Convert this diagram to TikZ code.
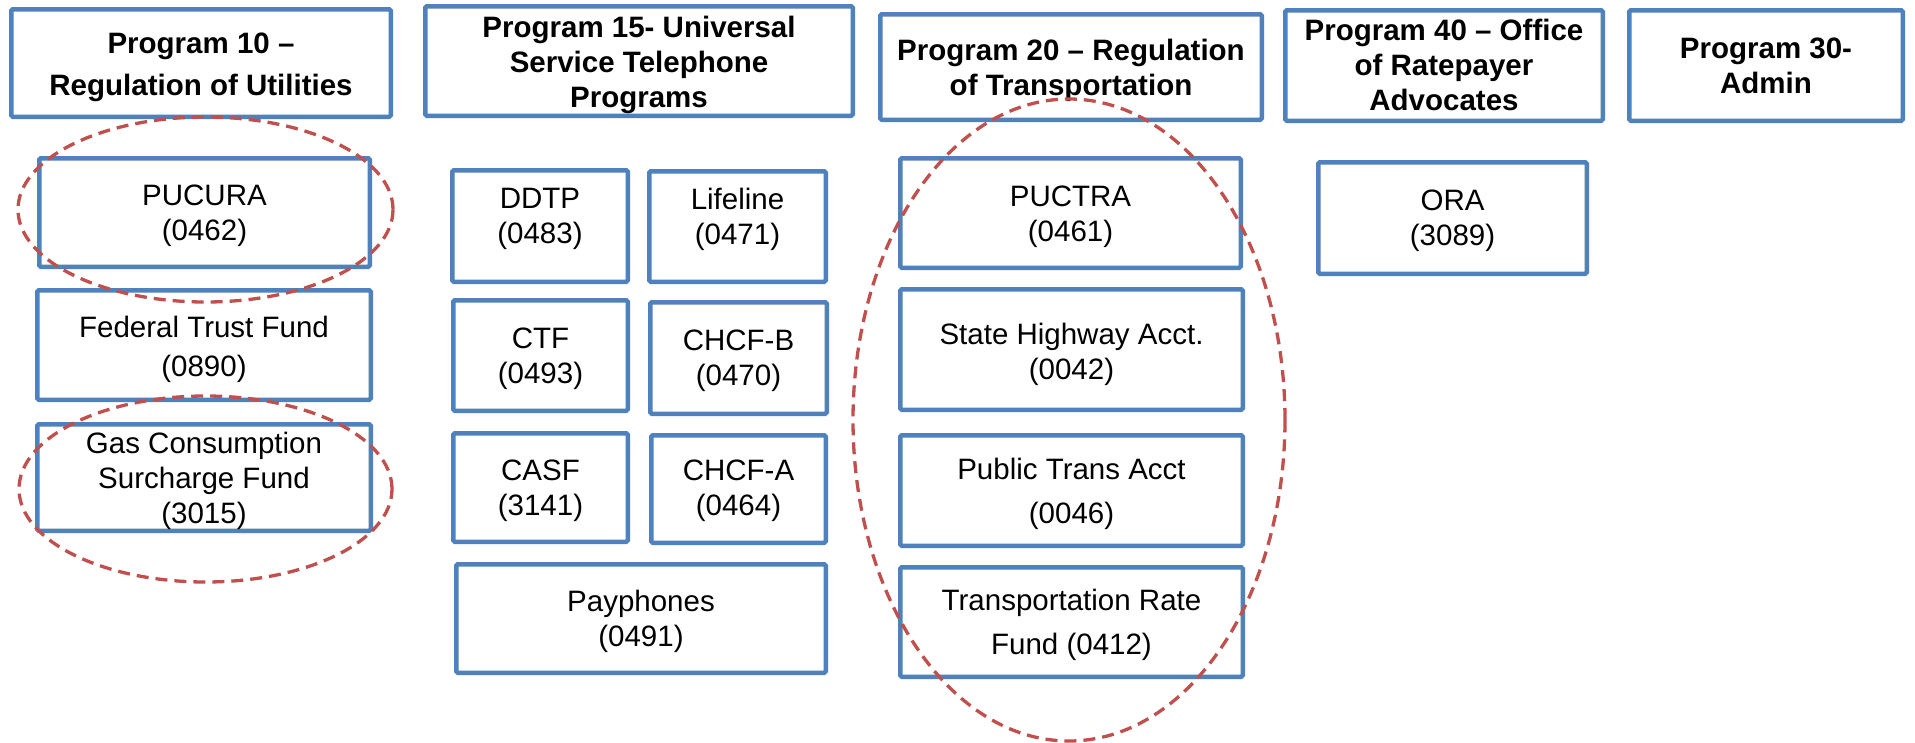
\documentclass[tikz,border=0pt]{standalone}
\usepackage{fontspec}
\setmainfont{Liberation Sans}
\definecolor{boxblue}{RGB}{79,129,189}
\definecolor{ellred}{RGB}{192,80,77}
\begin{document}
\begin{tikzpicture}[x=1pt,y=-1pt,
  box/.style={draw=boxblue, line width=4.5pt, rounded corners=1.5pt, fill=white, inner sep=0pt},
  txt/.style={align=center, inner sep=0pt, font=\fontsize{29.5}{35}\selectfont},
  hdr/.style={txt, font=\fontsize{29.5}{35}\selectfont\bfseries},
  ell/.style={draw=ellred, line width=3.3pt, dash pattern=on 12pt off 7pt}]
\useasboundingbox (0,0) rectangle (1915,742);
\fill[white] (0,0) rectangle (1915,742);
% headers
\node[box, minimum width=379.5pt, minimum height=107.5pt] (h1) at (201,63) {};
\node[box, minimum width=427.5pt, minimum height=109.5pt] (h15) at (639,61) {};
\node[box, minimum width=381.5pt, minimum height=105.5pt] (h20) at (1071,67) {};
\node[box, minimum width=317.5pt, minimum height=110.5pt] (h40) at (1444,65.5) {};
\node[box, minimum width=273.5pt, minimum height=110.5pt] (h30) at (1766,65.5) {};
\node[hdr] (h1t) at (201,67) {Program 10 --\strut\\[7pt]Regulation of Utilities\strut};
\node[hdr] (h15t) at (639,65) {Program 15- Universal\strut\\Service Telephone\strut\\Programs\strut};
\node[hdr] (h20t) at (1071,71) {Program 20 -- Regulation\strut\\of Transportation\strut};
\node[hdr] (h40t) at (1444,68) {Program 40 -- Office\strut\\of Ratepayer\strut\\Advocates\strut};
\node[hdr] (h30t) at (1766,68.5) {Program 30-\strut\\Admin\strut};
% column 1
\node[box, minimum width=330.5pt, minimum height=108.5pt] (pucura) at (204.5,212.5) {};
\node[box, minimum width=333.5pt, minimum height=109.5pt] (federal) at (204,345) {};
\node[box, minimum width=333.5pt, minimum height=106.5pt] (gas) at (204,477.5) {};
\node[txt] (pucurat) at (204.5,215.5) {PUCURA\strut\\(0462)\strut};
\node[txt] (federalt) at (204,349.5) {Federal Trust Fund\strut\\[4pt](0890)\strut};
\node[txt] (gast) at (204,481) {Gas Consumption\strut\\Surcharge Fund\strut\\(3015)\strut};
% column 2
\node[box, minimum width=175.5pt, minimum height=111.5pt] (ddtp) at (540,226) {};
\node[box, minimum width=176.5pt, minimum height=110.5pt] (lifeline) at (737.5,226.5) {};
\node[box, minimum width=174.5pt, minimum height=110.5pt] (ctf) at (540.5,355.5) {};
\node[box, minimum width=176.5pt, minimum height=111.5pt] (chcfb) at (738.5,358) {};
\node[box, minimum width=174.5pt, minimum height=108.5pt] (casf) at (540.5,487.5) {};
\node[box, minimum width=174.5pt, minimum height=107.5pt] (chcfa) at (738.5,489) {};
\node[box, minimum width=369.5pt, minimum height=108.5pt] (payphones) at (641,618.5) {};
\node[txt] (ddtpt) at (540,218.5) {DDTP\strut\\(0483)\strut};
\node[txt] (lifelinet) at (737.5,219.5) {Lifeline\strut\\(0471)\strut};
\node[txt] (ctft) at (540.5,358.5) {CTF\strut\\(0493)\strut};
\node[txt] (chcfbt) at (738.5,360.5) {CHCF-B\strut\\(0470)\strut};
\node[txt] (casft) at (540.5,490.5) {CASF\strut\\(3141)\strut};
\node[txt] (chcfat) at (738.5,490.5) {CHCF-A\strut\\(0464)\strut};
\node[txt] (payphonest) at (641,622) {Payphones\strut\\(0491)\strut};
% column 3
\node[box, minimum width=340.5pt, minimum height=109.5pt] (puctra) at (1070.5,213) {};
\node[box, minimum width=342.5pt, minimum height=120.5pt] (state) at (1071.5,349.5) {};
\node[box, minimum width=342.5pt, minimum height=110.5pt] (public) at (1071.5,490.5) {};
\node[box, minimum width=342.5pt, minimum height=109.5pt] (trf) at (1071.5,622) {};
\node[txt] (puctrat) at (1070.5,217) {PUCTRA\strut\\(0461)\strut};
\node[txt] (statet) at (1071.5,355) {State Highway Acct.\strut\\(0042)\strut};
\node[txt] (publict) at (1071.5,494) {Public Trans Acct\strut\\[9pt](0046)\strut};
\node[txt] (trft) at (1071.5,625) {Transportation Rate\strut\\[9pt]Fund (0412)\strut};
% column 4
\node[box, minimum width=268.5pt, minimum height=111.5pt] (ora) at (1452.5,218) {};
\node[txt] (orat) at (1452.5,220.5) {ORA\strut\\(3089)\strut};
% dashed ellipses
\coordinate (e1) at (205.5,209.5);
\coordinate (e2) at (205.5,489);
\coordinate (e3) at (1069,420);
\draw[ell] (e1) ellipse [x radius=187.5pt, y radius=92.5pt];
\draw[ell] (e2) ellipse [x radius=186.5pt, y radius=93pt];
\draw[ell] (e3) ellipse [x radius=216pt, y radius=321pt];
\end{tikzpicture}
\end{document}
